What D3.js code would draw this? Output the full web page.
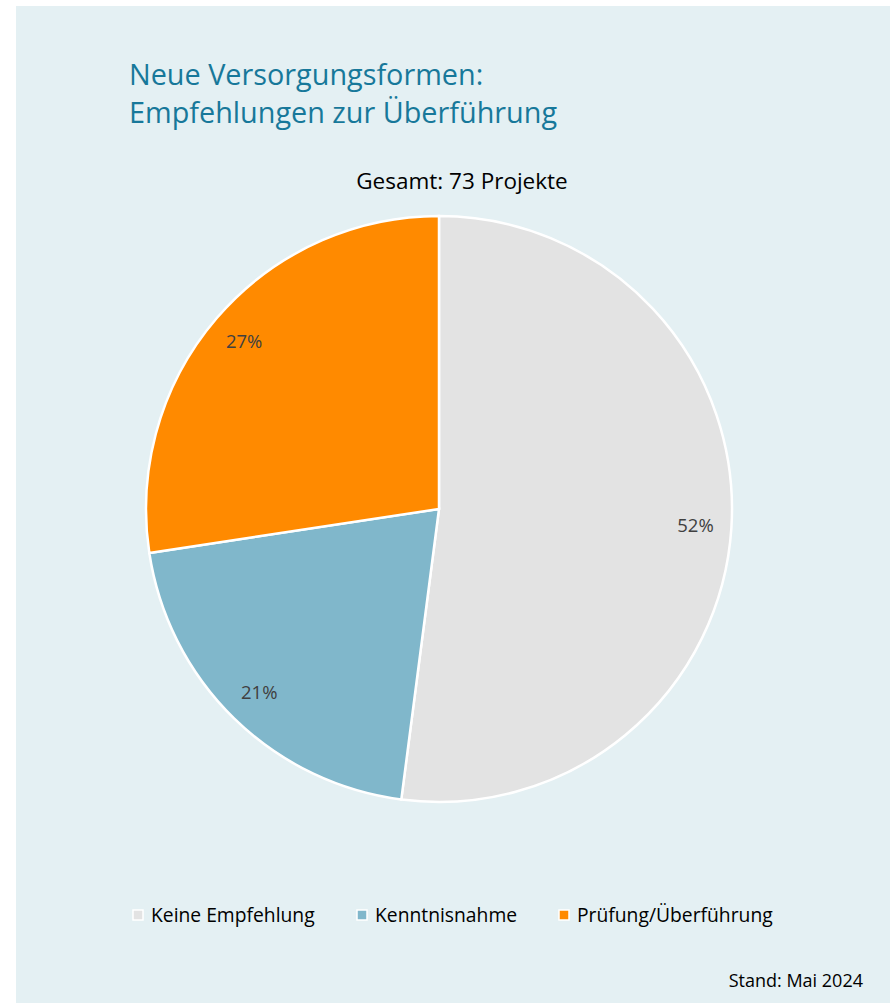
<!DOCTYPE html>
<html>
<head>
<meta charset="utf-8">
<script src="https://cdn.jsdelivr.net/npm/d3@7"></script>
<style>
  body { margin: 0; background: #fff; }
  text { font-family: "Open Sans", Lato, sans-serif; }
</style>
</head>
<body>
<svg id="chart"></svg>
<script>
// Data
const categories = ["Keine Empfehlung", "Kenntnisnahme", "Prüfung/Überführung"];
const counts = [38, 15, 20];
const colors = ["#e3e3e3", "#80b7cb", "#ff8a00"];
const total = 73;

const width = 890, height = 1003;
const svg = d3.select("#chart")
    .attr("width", width)
    .attr("height", height);

// panel background
svg.append("rect")
    .attr("x", 16).attr("y", 6)
    .attr("width", width - 16).attr("height", height - 6)
    .attr("fill", "#e4f0f3");

// title
const title = svg.append("text")
    .attr("x", 129).attr("y", 85)
    .attr("fill", "#17789a")
    .style("font-size", "28.8px");
title.append("tspan").attr("x", 129).text("Neue Versorgungsformen:");
title.append("tspan").attr("x", 129).attr("dy", 38).text("Empfehlungen zur Überführung");

svg.append("text")
    .attr("x", 462).attr("y", 189)
    .attr("text-anchor", "middle")
    .attr("fill", "#000")
    .style("font-size", "22.5px")
    .text(`Gesamt: ${total} Projekte`);

// pie
const cx = 439, cy = 509, r = 293;
const pie = d3.pie().sort(null).value(d => d.value);
const arcs = pie(categories.map((c, i) => ({ name: c, value: counts[i] })));
const arc = d3.arc().innerRadius(0).outerRadius(r);
const labelArc = d3.arc().innerRadius(257).outerRadius(257);

const g = svg.append("g").attr("transform", `translate(${cx},${cy})`);
g.selectAll("path")
    .data(arcs)
    .enter().append("path")
    .attr("d", arc)
    .attr("fill", (d, i) => colors[i])
    .attr("stroke", "#fff")
    .attr("stroke-width", 2.5);

g.selectAll(".lbl")
    .data(arcs)
    .enter().append("text")
    .attr("class", "lbl")
    .attr("transform", d => `translate(${labelArc.centroid(d)})`)
    .attr("text-anchor", "middle")
    .attr("dy", "0.35em")
    .attr("fill", "#404040")
    .style("font-size", "18.5px")
    .text(d => Math.round(d.value / total * 100) + "%");

// legend
const legendX = [133, 357, 559];
const legend = svg.selectAll(".leg")
    .data(categories)
    .enter().append("g")
    .attr("transform", (d, i) => `translate(${legendX[i]},915)`);
legend.append("rect")
    .attr("x", 0).attr("y", -5)
    .attr("width", 10).attr("height", 10)
    .attr("fill", (d, i) => colors[i])
    .attr("stroke", "#fff")
    .attr("stroke-width", 1.5);
legend.append("text")
    .attr("x", 18).attr("y", 0)
    .attr("dy", "0.35em")
    .attr("fill", "#000")
    .style("font-size", "19.3px")
    .text(d => d);

// footnote
svg.append("text")
    .attr("x", 863).attr("y", 987)
    .attr("text-anchor", "end")
    .attr("fill", "#000")
    .style("font-size", "18px")
    .text("Stand: Mai 2024");
</script>
</body>
</html>
